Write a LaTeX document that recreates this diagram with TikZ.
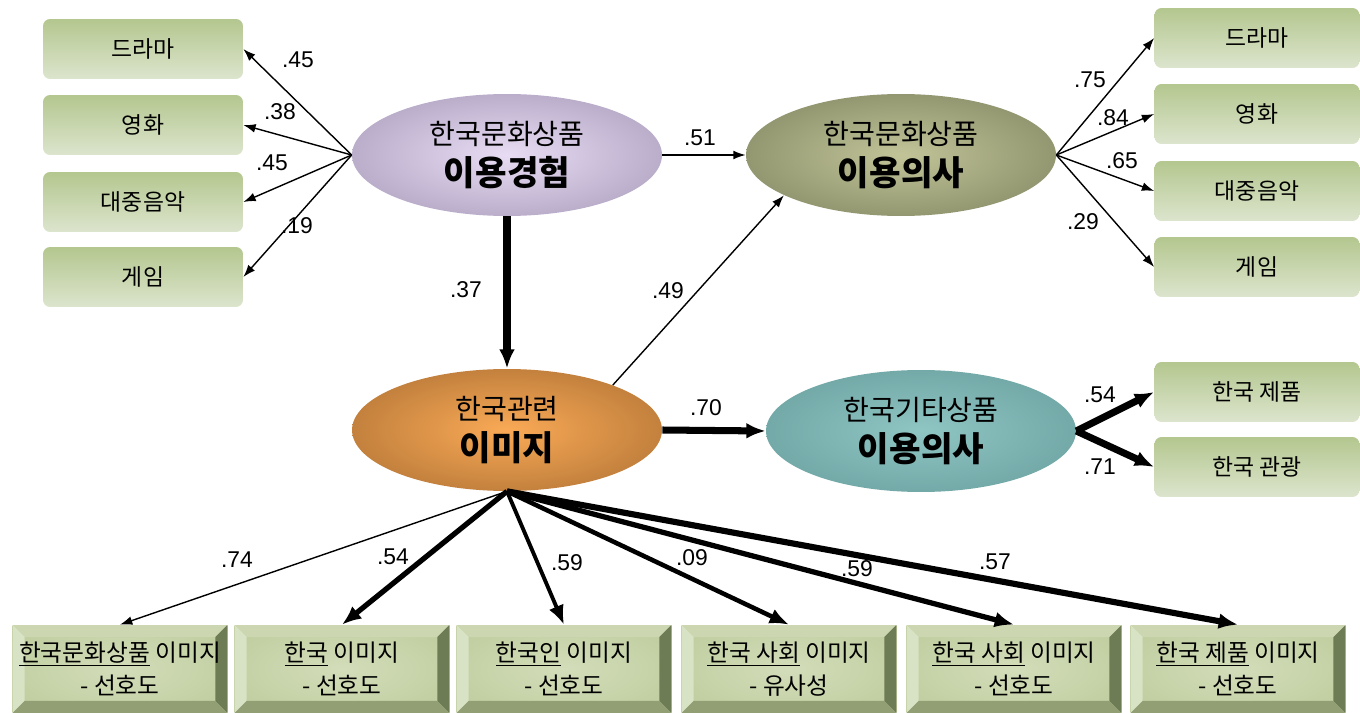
\documentclass[tikz,border=0pt]{standalone}
\usepackage{fontspec}
\setmainfont{Liberation Sans}
\newfontfamily\kr{Noto Sans CJK KR}
\usetikzlibrary{calc}
\usetikzlibrary{shapes.geometric}
\usetikzlibrary{arrows.meta}
\tikzset{>=latex}

\definecolor{boxtop}{HTML}{B4C78F}
\definecolor{boxbot}{HTML}{DCE5CD}
\definecolor{e1in}{HTML}{E8DCF4}
\definecolor{e1out}{HTML}{8D7FA1}
\definecolor{e2in}{HTML}{C2C498}
\definecolor{e2out}{HTML}{636B4A}
\definecolor{e3in}{HTML}{FAAA56}
\definecolor{e3out}{HTML}{8C5825}
\definecolor{e4in}{HTML}{8FC6C4}
\definecolor{e4out}{HTML}{578C8B}
\definecolor{facein}{HTML}{D3DDBA}
\definecolor{faceout}{HTML}{B3C38D}
\definecolor{bvtop}{HTML}{CCD7B2}
\definecolor{bvleft}{HTML}{D8E2C4}
\definecolor{bvright}{HTML}{6E7C55}
\definecolor{bvbot}{HTML}{929F74}

\pgfdeclareradialshading{expshade}{\pgfpoint{0bp}{0bp}}{color(0bp)=(e1in);color(50bp)=(e1out)}
\pgfdeclareradialshading{intshade}{\pgfpoint{0bp}{0bp}}{color(0bp)=(e2in);color(50bp)=(e2out)}
\pgfdeclareradialshading{imgshade}{\pgfpoint{0bp}{0bp}}{color(0bp)=(e3in);color(50bp)=(e3out)}
\pgfdeclareradialshading{othshade}{\pgfpoint{0bp}{0bp}}{color(0bp)=(e4in);color(50bp)=(e4out)}
\pgfdeclareradialshading{faceshade}{\pgfpoint{0bp}{0bp}}{color(0bp)=(facein);color(50bp)=(faceout)}

\begin{document}
\begin{tikzpicture}[x=0.02cm,y=-0.02cm,
  item/.style={rounded corners=4pt,top color=boxtop,bottom color=boxbot,minimum width=4cm,minimum height=1.2cm,inner sep=0pt,font=\kr\fontsize{13}{15}\selectfont},
  latent/.style={ellipse,minimum width=6.2cm,minimum height=2.44cm,inner sep=0pt,align=center,font=\kr\fontsize{16}{24}\selectfont},
  bevelbox/.style={shading=faceshade,minimum width=4.3cm,minimum height=1.76cm,inner sep=0pt,align=center,font=\kr\fontsize{13.5}{19}\selectfont,
    path picture={
      \fill[bvtop] (path picture bounding box.north west) -- (path picture bounding box.north east) -- ($(path picture bounding box.north east)+(-12,12)$) -- ($(path picture bounding box.north west)+(12,12)$) -- cycle;
      \fill[bvleft] (path picture bounding box.north west) -- ($(path picture bounding box.north west)+(12,12)$) -- ($(path picture bounding box.south west)+(12,-12)$) -- (path picture bounding box.south west) -- cycle;
      \fill[bvright] (path picture bounding box.north east) -- ($(path picture bounding box.north east)+(-12,12)$) -- ($(path picture bounding box.south east)+(-12,-12)$) -- (path picture bounding box.south east) -- cycle;
      \fill[bvbot] (path picture bounding box.south west) -- ($(path picture bounding box.south west)+(12,-12)$) -- ($(path picture bounding box.south east)+(-12,-12)$) -- (path picture bounding box.south east) -- cycle;
    }},
  light/.style={-{Latex[length=7pt,width=5pt]},line width=0.8pt},
  heavy/.style={-{Latex[length=11pt,width=9pt]},line width=#1},
  num/.style={font=\fontsize{13}{15}\selectfont,inner sep=1pt}]
\useasboundingbox (0,0) rectangle (1360,713);

% latent variables
\node[latent,shading=expshade] (exp) at (507,155) {한국문화상품\\[-1pt]{\bfseries\fontsize{19.5}{24}\selectfont 이용경험}};
\node[latent,shading=intshade] (int) at (901,155) {한국문화상품\\[-1pt]{\bfseries\fontsize{19.5}{24}\selectfont 이용의사}};
\node[latent,shading=imgshade] (img) at (507,430) {한국관련\\[-1pt]{\bfseries\fontsize{19.5}{24}\selectfont 이미지}};
\node[latent,shading=othshade] (oth) at (921,431) {한국기타상품\\[-1pt]{\bfseries\fontsize{19.5}{24}\selectfont 이용의사}};

% left indicators
\node[item] (l1) at (143,49) {드라마};
\node[item] (l2) at (143,125) {영화};
\node[item] (l3) at (143,202) {대중음악};
\node[item] (l4) at (143,277) {게임};

% right indicators
\node[item,minimum width=4.1cm] (r1) at (1257,38) {드라마};
\node[item,minimum width=4.1cm] (r2) at (1257,114) {영화};
\node[item,minimum width=4.1cm] (r3) at (1257,191) {대중음악};
\node[item,minimum width=4.1cm] (r4) at (1257,267) {게임};
\node[item,minimum width=4.1cm] (r5) at (1257,392) {한국 제품};
\node[item,minimum width=4.1cm] (r6) at (1257,467) {한국 관광};

% image indicators
\node[bevelbox] (b1) at (120,669) {\underline{한국문화상품} 이미지\\- 선호도};
\node[bevelbox] (b2) at (342,669) {\underline{한국} 이미지\\- 선호도};
\node[bevelbox] (b3) at (564,669) {\underline{한국인} 이미지\\- 선호도};
\node[bevelbox] (b4) at (789,669) {\underline{한국 사회} 이미지\\- 유사성};
\node[bevelbox] (b5) at (1014,669) {\underline{한국 사회} 이미지\\- 선호도};
\node[bevelbox] (b6) at (1238,669) {\underline{한국 제품} 이미지\\- 선호도};

% paths
\draw[light] (exp.west) -- (l1.east);
\draw[light] (exp.west) -- (l2.east);
\draw[light] (exp.west) -- (l3.east);
\draw[light] (exp.west) -- (l4.east);
\draw[light] (exp.east) -- (int.west);
\draw[heavy=4pt] (exp.south) -- (img.north);
\draw[light] (img.23) -- (int.199);
\draw[heavy=4pt] (img.east) -- (oth.west);
\draw[light] (int.east) -- (r1.west);
\draw[light] (int.east) -- (r2.west);
\draw[light] (int.east) -- (r3.west);
\draw[light] (int.east) -- (r4.west);
\draw[heavy=4pt] (oth.east) -- (r5.west);
\draw[heavy=4pt] (oth.east) -- (r6.west);
\draw[light] (img.south) -- (b1.north);
\draw[heavy=3pt] (img.south) -- (b2.north);
\draw[heavy=2.2pt] (img.south) -- (b3.north);
\draw[heavy=2.6pt] (img.south) -- (b4.north);
\draw[heavy=3pt] (img.south) -- (b5.north);
\draw[heavy=3.5pt] (img.south) -- (b6.north);

% estimates
\node[num] (w1) at (298,60) {.45};
\node[num] (w2) at (280,112) {.38};
\node[num] (w3) at (272,163) {.45};
\node[num] (w4) at (297,226) {.19};
\node[num] (w5) at (700,138) {.51};
\node[num] (w6) at (466,290) {.37};
\node[num] (w7) at (668,291) {.49};
\node[num] (w8) at (706,408) {.70};
\node[num] (w9) at (1090,80) {.75};
\node[num] (w10) at (1113,118) {.84};
\node[num] (w11) at (1122,161) {.65};
\node[num] (w12) at (1083,222) {.29};
\node[num] (w13) at (1100,395) {.54};
\node[num] (w14) at (1100,467) {.71};
\node[num] (w15) at (237,560) {.74};
\node[num] (w16) at (393,557) {.54};
\node[num] (w17) at (567,563) {.59};
\node[num] (w18) at (692,558) {.09};
\node[num] (w19) at (857,569) {.59};
\node[num] (w20) at (995,562) {.57};
\end{tikzpicture}
\end{document}
